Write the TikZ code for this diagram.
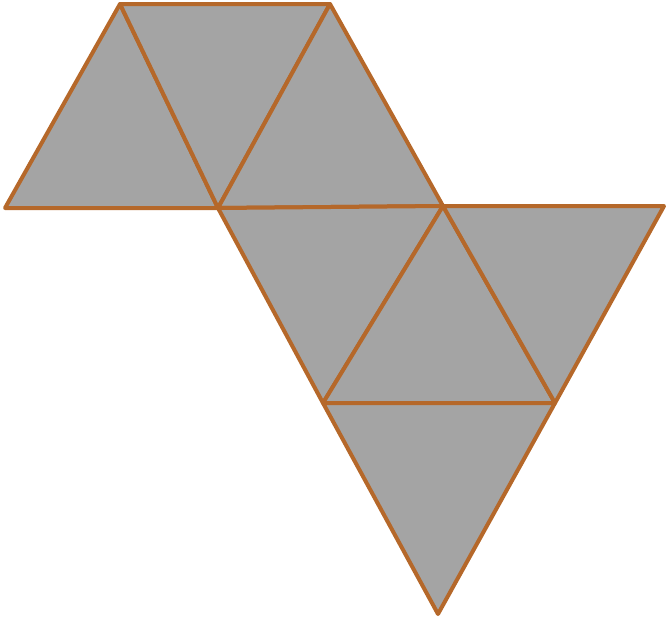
\documentclass[tikz,border=0pt]{standalone}
\definecolor{fillg}{HTML}{A4A4A4}
\definecolor{edge}{HTML}{B5682A}
\begin{document}
\begin{tikzpicture}[x=1pt,y=-1pt,
  face/.style={fill=fillg,draw=edge,line width=4pt,line join=round}]
\useasboundingbox (0,0) rectangle (668,621);
\coordinate (A) at (120,4);
\coordinate (B) at (330,4);
\coordinate (C) at (5,208);
\coordinate (D) at (218,208);
\coordinate (E) at (443,206);
\coordinate (F) at (664,206);
\coordinate (G) at (323,403);
\coordinate (H) at (555,403);
\coordinate (I) at (438,614);
\filldraw[face] (C) -- (A) -- (D) -- cycle;
\filldraw[face] (A) -- (B) -- (D) -- cycle;
\filldraw[face] (D) -- (B) -- (E) -- cycle;
\filldraw[face] (D) -- (E) -- (G) -- cycle;
\filldraw[face] (G) -- (E) -- (H) -- cycle;
\filldraw[face] (E) -- (F) -- (H) -- cycle;
\filldraw[face] (G) -- (H) -- (I) -- cycle;
\end{tikzpicture}
\end{document}
